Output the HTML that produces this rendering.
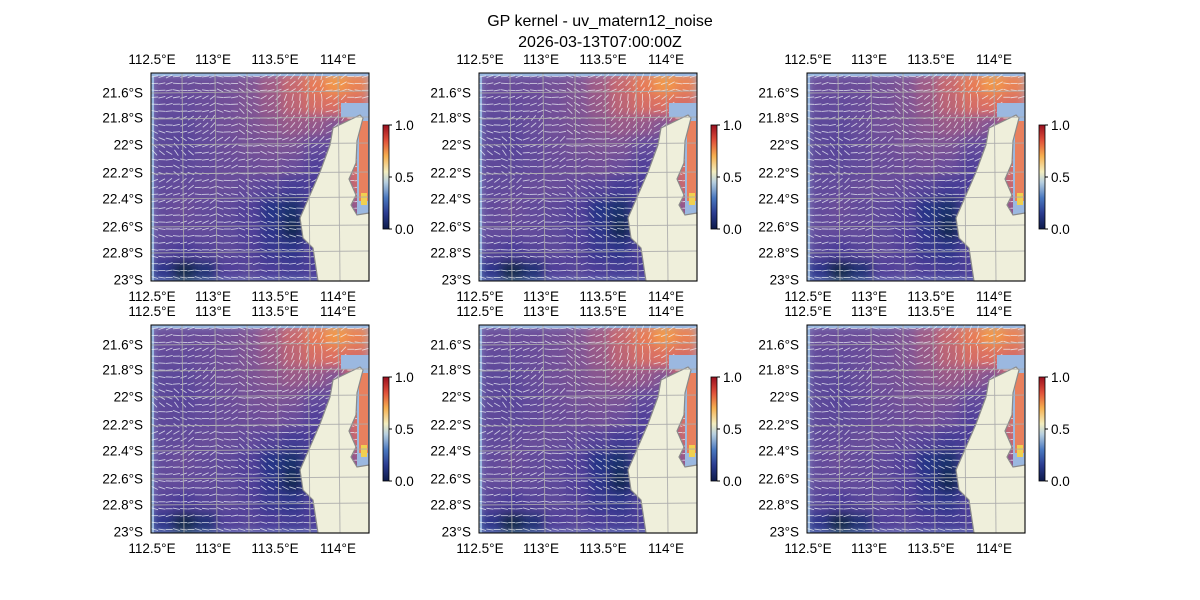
<!DOCTYPE html>
<html><head><meta charset="utf-8"><style>
body{margin:0;background:#fff;}
svg{display:block;font-family:"Liberation Sans",sans-serif;}
</style></head><body>
<svg id="fig" width="1200" height="600" viewBox="0 0 1200 600">
<defs><filter id="blur" x="0" y="0" width="1" height="1"><feGaussianBlur stdDeviation="5" edgeMode="duplicate"/></filter>
<clipPath id="pclip"><rect x="0" y="0" width="218" height="208"/></clipPath></defs>
<text x="600" y="26" text-anchor="middle" font-size="16">GP kernel - uv_matern12_noise</text>
<text x="600" y="47" text-anchor="middle" font-size="16">2026-03-13T07:00:00Z</text>
</svg>
<script>
// field values (rows top->bottom, cols left->right), 0..1
const fieldRows = [
 [.32,.32,.33,.36,.40,.48,.58,.68,.76,.70],
 [.30,.30,.32,.35,.40,.46,.55,.62,.64,.62],
 [.27,.27,.31,.35,.38,.42,.46,.45,.40,.62],
 [.27,.25,.30,.33,.36,.38,.38,.30,.30,.62],
 [.28,.27,.30,.32,.33,.35,.32,.22,.30,.62],
 [.29,.30,.31,.31,.30,.24,.18,.20,.30,.58],
 [.30,.32,.30,.28,.22,.10,.07,.20,.30,.45],
 [.30,.30,.30,.27,.22,.12,.04,.15,.30,.30],
 [.24,.20,.24,.27,.22,.15,.12,.20,.30,.30],
 [.12,.03,.08,.22,.24,.20,.18,.20,.30,.30]];
// current directions (degrees, 0 = east, 180 = west)
const angleRows = [
 [190,185,180,170,160,200,220,240,200,180],
 [185,190,200,175,150,210,250,260,210,180],
 [170,200,220,190,160,180,230,240,220,180],
 [150,140,200,210,180,170,200,210,200,180],
 [170,160,180,200,190,180,170,190,200,180],
 [200,210,190,170,150,160,180,200,200,180],
 [190,200,200,170,160,150,170,190,200,180],
 [170,190,195,180,170,160,170,190,200,180],
 [180,185,180,175,180,170,180,190,200,180],
 [180,180,180,175,180,175,180,185,200,180]];
const lonTicks = ["112.5°E","113°E","113.5°E","114°E"];
const latTicks = ["21.6°S","21.8°S","22°S","22.2°S","22.4°S","22.6°S","22.8°S","23°S"];
const cbTicks = [1.0,0.5,0.0];

const NS="http://www.w3.org/2000/svg";
const svg=document.getElementById('fig');
function el(t,a,p){const e=document.createElementNS(NS,t);for(const k in a)e.setAttribute(k,a[k]);(p||svg).appendChild(e);return e;}
const stops=[[0,[12,38,52]],[0.1,[38,52,135]],[0.2,[76,62,152]],[0.3,[100,76,155]],[0.4,[128,84,148]],[0.5,[168,94,130]],[0.65,[226,114,94]],[0.78,[246,158,68]]];
function col(v){for(let i=1;i<stops.length;i++){if(v<=stops[i][0]){const a=stops[i-1],b=stops[i],t=(v-a[0])/(b[0]-a[0]);return 'rgb('+a[1].map((c,j)=>Math.round(c+(b[1][j]-c)*t)).join(',')+')';}}return 'rgb(246,158,68)';}
const W=218,H=208;
const xs=[151,479,807], ys=[73,325];
const lonPos=[1,62,124,187], latPos=[20,45,72,100,126,154,180,207];
const land="209,42 182,55 179,72 169,99 159,122 149,145 152,165 162,175 167,208 218,208 218,140 206,142 200,132 205,122 198,106 205,90 206,68 212,45";
let pi=0;
ys.forEach(y0=>xs.forEach(x0=>{
 pi++;
 const g=el('g',{transform:`translate(${x0},${y0})`});
 
 
 el('rect',{x:0,y:0,width:W,height:H,fill:'#9bb8e0'},g);
 const cg=el('g',{'clip-path':'url(#pclip)'},g);
 const fg=el('g',{filter:'url(#blur)'},cg);
 const nr=fieldRows.length,nc=fieldRows[0].length,cw=W/nc,ch=H/nr;
 fieldRows.forEach((row,r)=>row.forEach((v,c)=>{
  const cell=el('rect',{x:c*cw,y:r*ch,width:cw+0.5,height:ch+0.5,fill:col(v)},fg);
  
  
 }));
 el('rect',{x:0,y:0,width:3,height:H,fill:'#9bb8e0'},g);
 el('rect',{x:0,y:0,width:W,height:3,fill:'#9bb8e0'},g);
 angleRows.forEach((row,r)=>row.forEach((a,c)=>{
  for(let i=0;i<3;i++)for(let j=0;j<3;j++){
   const cx=c*cw+(i+0.5)*cw/3, cy=r*ch+(j+0.5)*ch/3, rad=(a+(i-j)*8)*Math.PI/180, L=3.5;
   el('line',{x1:cx-L*Math.cos(rad),y1:cy+L*Math.sin(rad),x2:cx+L*Math.cos(rad),y2:cy-L*Math.sin(rad),stroke:'#f0f4fa','stroke-width':0.9,'stroke-opacity':0.75},g);
  }
 }));
 el('rect',{x:190,y:30,width:28,height:14,fill:'#9bb8e0'},g);
 el('rect',{x:206,y:42,width:12,height:100,fill:'#9bb8e0'},g);
 el('rect',{x:208,y:48,width:9,height:80,fill:'#e8805e'},g);
 el('rect',{x:210,y:120,width:6,height:12,fill:'#f0d050'},g);
 const lp=el('polygon',{points:land,fill:'#efefdb',stroke:'#8a8a8a','stroke-width':1.2},g);
 
 
 const gl=el('g',{stroke:'#aaaaaa','stroke-width':1,'stroke-opacity':0.85},g);
 
 
 [31,64,96,126,157,187].forEach(x=>el('line',{x1:x,y1:0,x2:x+2,y2:H},gl));
 [19,45,71,100,125,153,179].forEach(y=>el('line',{x1:0,y1:y+1,x2:W,y2:y-1},gl));
 el('rect',{x:0,y:0,width:W,height:H,fill:'none',stroke:'#000','stroke-width':1},g);
 lonTicks.forEach((t,k)=>{
  const a=el('text',{x:lonPos[k],y:-9,'text-anchor':'middle','font-size':13.5},g);a.textContent=t;
  
  
  const b=el('text',{x:lonPos[k],y:228,'text-anchor':'middle','font-size':13.5},g);b.textContent=t;
  
  
 });
 latTicks.forEach((t,k)=>{
  const a=el('text',{x:-8,y:latPos[k]+4.5,'text-anchor':'end','font-size':13.5},g);a.textContent=t;
  
  
 });
 const cb=el('g',{transform:'translate(232,52)'},g);
 
 
 const defs=el('defs',{},cb);
 const lg=el('linearGradient',{id:'cbg'+pi,x1:0,y1:1,x2:0,y2:0},defs);
 [[0,'#0d1a4a'],[0.15,'#2a3b8f'],[0.3,'#4a78c0'],[0.45,'#b8d0e0'],[0.55,'#f3eec0'],[0.7,'#f6b050'],[0.85,'#e0503a'],[1,'#9a0f1f']].forEach(s=>el('stop',{offset:s[0],'stop-color':s[1]},lg));
 el('rect',{x:0,y:0,width:6,height:104,fill:`url(#cbg${pi})`,stroke:'#000','stroke-width':0.8},cb);
 cbTicks.forEach(v=>{
  const yy=104-v*104;
  el('line',{x1:6,y1:yy,x2:9,y2:yy,stroke:'#000'},cb);
  const t=el('text',{x:12,y:yy+5,'font-size':13.5},cb);t.textContent=v.toFixed(1);
  
  
 });
}));
</script>
</body></html>
